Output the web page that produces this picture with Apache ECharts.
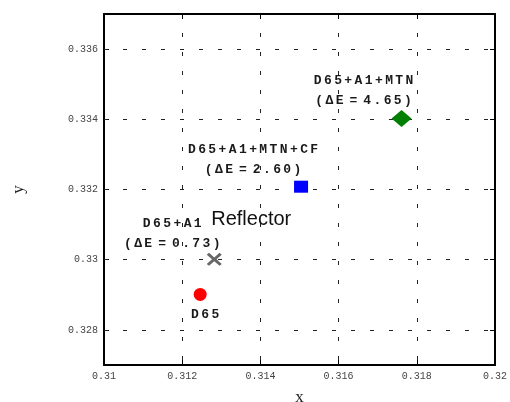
<!DOCTYPE html>
<html>
<head>
<meta charset="utf-8">
<script src="https://cdn.jsdelivr.net/npm/echarts@6/dist/echarts.min.js"></script>
<style>html,body{margin:0;padding:0;background:#fff;}#c{width:510px;height:402px;}</style>
</head>
<body>
<div id="c"></div>
<script>
// ---- data ----
const pointNames = ['D65', 'D65+A1', 'D65+A1+MTN+CF', 'D65+A1+MTN'];
const xValues = [0.31246, 0.31282, 0.31504, 0.31761];
const yValues = [0.32901, 0.33001, 0.33208, 0.33402];
const deltaE = ['', '0.73', '2.60', '4.65'];
const xTickValues = [0.31, 0.312, 0.314, 0.316, 0.318, 0.32];
const yTickValues = [0.328, 0.33, 0.332, 0.334, 0.336];
const reflectorText = 'Reflector';

// ---- styling ----
const colors = ['#ff0000', '#666666', '#0000ff', '#008000'];
const symbols = ['circle',
  'path://M0,1.5 L1.5,0 L5,3.5 L8.5,0 L10,1.5 L6.5,5 L10,8.5 L8.5,10 L5,6.5 L1.5,10 L0,8.5 L3.5,5 Z',
  'rect', 'diamond'];
const sizes = [13, [15, 13], [14, 12], [20, 17]];
const labelOffsets = [[5, 20], [-42, -26], [-48, -26.5], [-38, -28]];

function spaced(str) {
  return str.split('').map(c => c === ' ' ? '{s| }' : '{c|' + c + '}').join('');
}
function labelText(i) {
  let t = spaced(pointNames[i]);
  if (deltaE[i]) t += '\n' + spaced('(ΔE = ' + deltaE[i] + ')');
  return t;
}
const richStyle = {
  c: { fontFamily: 'Liberation Mono', fontWeight: 'bold', fontSize: 13, color: '#1a1a1a', padding: [0, 1.2, 0, 1.2], lineHeight: 20 },
  s: { fontFamily: 'Liberation Mono', fontSize: 6, color: '#1a1a1a', lineHeight: 20 }
};

const gridLineStyle = { color: '#222', width: 1, type: [4, 15] };

const series = pointNames.map((n, i) => {
  const s = {
    type: 'scatter',
    name: n,
    data: [[xValues[i], yValues[i]]],
    symbol: symbols[i],
    symbolSize: sizes[i],
    itemStyle: { color: colors[i], opacity: 1 },
    label: {
      show: true,
      position: 'inside',
      offset: labelOffsets[i],
      align: 'center',
      verticalAlign: 'middle',
      formatter: () => labelText(i),
      rich: richStyle
    },
    z: 5
  };
  if (i === 1) {
    s.markPoint = {
      symbol: 'circle', symbolSize: 0, silent: true,
      data: [{ coord: [xValues[i], yValues[i]] }],
      label: {
        show: true, position: 'inside', offset: [37, -40],
        formatter: reflectorText,
        fontFamily: 'Liberation Sans', fontSize: 20, color: '#111'
      }
    };
  }
  if (i === 0) {
    const x0 = xTickValues[0], x1 = xTickValues[xTickValues.length - 1];
    s.markLine = {
      silent: true, symbol: 'none', animation: false, z: 1,
      label: { show: false },
      lineStyle: gridLineStyle,
      data: yTickValues.map(v => [{ coord: [x0, v] }, { coord: [x1, v] }])
    };
  }
  return s;
});

const tickLabelStyle = { fontFamily: 'Liberation Mono', fontSize: 10, color: '#444' };

const chart = echarts.init(document.getElementById('c'), null, { renderer: 'canvas' });
chart.setOption({
  animation: false,
  grid: { left: 104, right: 15, top: 14, bottom: 37, containLabel: false, outerBoundsMode: 'none' },
  xAxis: [{
    type: 'value', min: 0.31, max: 0.32, interval: 0.002, position: 'bottom',
    name: 'x', nameLocation: 'middle', nameGap: 24,
    nameTextStyle: { fontFamily: 'Liberation Serif', fontSize: 17, color: '#222' },
    axisLine: { show: true, onZero: false, lineStyle: { color: '#000', width: 2 } },
    axisTick: { show: true, inside: true, length: 5, lineStyle: { color: '#000', width: 1 } },
    axisLabel: Object.assign({ margin: 6 }, tickLabelStyle),
    splitLine: { show: true, lineStyle: gridLineStyle }
  }, {
    type: 'value', min: 0.31, max: 0.32, interval: 0.002, position: 'top',
    axisLine: { show: true, onZero: false, lineStyle: { color: '#000', width: 2 } },
    axisTick: { show: true, inside: true, length: 5, lineStyle: { color: '#000', width: 1 } },
    axisLabel: { show: false }, splitLine: { show: false }
  }],
  yAxis: [{
    type: 'value', min: 0.327, max: 0.337, position: 'left',
    name: 'y', nameLocation: 'middle', nameGap: 77, nameRotate: 90,
    nameTextStyle: { fontFamily: 'Liberation Serif', fontSize: 17, color: '#222' },
    axisLine: { show: true, onZero: false, lineStyle: { color: '#000', width: 2 } },
    axisTick: { show: true, inside: true, length: 5, customValues: yTickValues, lineStyle: { color: '#000', width: 1 } },
    axisLabel: Object.assign({ margin: 6, customValues: yTickValues }, tickLabelStyle),
    splitLine: { show: false }
  }, {
    type: 'value', min: 0.327, max: 0.337, position: 'right',
    axisLine: { show: true, onZero: false, lineStyle: { color: '#000', width: 2 } },
    axisTick: { show: true, inside: true, length: 5, customValues: yTickValues, lineStyle: { color: '#000', width: 1 } },
    axisLabel: { show: false }, splitLine: { show: false }
  }],
  series: series
});
</script>
</body>
</html>
